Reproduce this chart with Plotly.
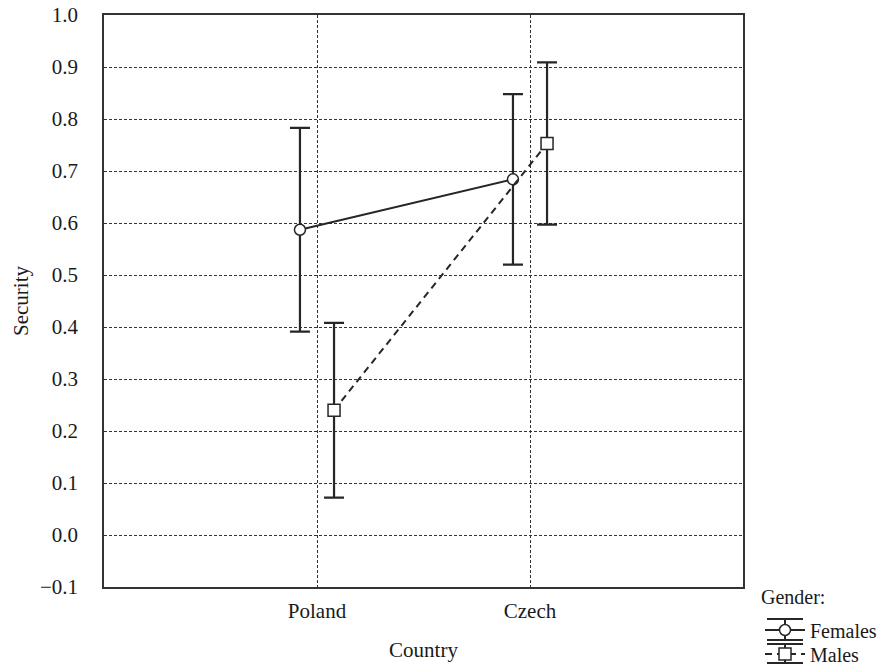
import plotly.graph_objects as go

countries = ["Poland", "Czech"]
females_mean = [0.587, 0.684]
females_err = [0.196, 0.164]
males_mean = [0.240, 0.753]
males_err = [0.168, 0.156]
y_ticks = [-0.1, 0.0, 0.1, 0.2, 0.3, 0.4, 0.5, 0.6, 0.7, 0.8, 0.9, 1.0]
y_ticktext = ["\u22120.1", "0.0", "0.1", "0.2", "0.3", "0.4", "0.5", "0.6", "0.7", "0.8", "0.9", "1.0"]

idx = list(range(len(countries)))
off = 0.08
col = "#262626"
font = "Liberation Serif, Times New Roman, serif"
fs = 21
W, H = 886, 669
ML, MR, MT, MB = 104, 143, 15, 82
PW, PH = W - ML - MR, H - MT - MB


def cy(pix):
    return 1 - pix / H


def cx(pix):
    return pix / W


def pxp(pix):
    return (pix - ML) / PW


def pyp(pix):
    return (H - MB - pix) / PH


fig = go.Figure()
fig.add_trace(go.Scatter(
    x=[i - off for i in idx], y=females_mean, name="Females",
    mode="lines+markers", legend="legend",
    line=dict(color=col, width=2),
    marker=dict(symbol="circle", size=11, color="white", line=dict(color=col, width=1.5)),
    error_y=dict(type="data", array=females_err, color=col, thickness=2.2, width=10),
))
fig.add_trace(go.Scatter(
    x=[i + off for i in idx], y=males_mean, name="Males",
    mode="lines+markers", legend="legend2",
    line=dict(color=col, width=2, dash="7px,5px"),
    marker=dict(symbol="square", size=12, color="white", line=dict(color=col, width=1.5)),
    error_y=dict(type="data", array=males_err, color=col, thickness=2.2, width=10),
))

leg_common = dict(
    xref="container", yref="container", xanchor="left", yanchor="middle",
    font=dict(size=fs - 1), tracegroupgap=0, itemwidth=40,
    bgcolor="rgba(0,0,0,0)", borderwidth=0,
)

# legend glyph decoration: error-bar caps and stems
gx = 785
shapes = []
for ytop, ybot in [(619, 640), (644, 663)]:
    for yy in (ytop, ybot):
        shapes.append(dict(type="line", xref="paper", yref="paper",
                           x0=pxp(gx - 18), x1=pxp(gx + 18), y0=pyp(yy), y1=pyp(yy),
                           line=dict(color=col, width=2), layer="below"))
    shapes.append(dict(type="line", xref="paper", yref="paper",
                       x0=pxp(gx), x1=pxp(gx), y0=pyp(ytop), y1=pyp(ybot),
                       line=dict(color=col, width=2), layer="below"))

fig.update_layout(
    width=W, height=H,
    margin=dict(l=ML, r=MR, t=MT, b=MB, autoexpand=False),
    paper_bgcolor="white", plot_bgcolor="white",
    font=dict(family=font, size=fs, color="#1a1a1a"),
    legend=dict(x=cx(760), y=cy(630), **leg_common),
    legend2=dict(x=cx(760), y=cy(654), **leg_common),
    showlegend=True,
    shapes=shapes,
    annotations=[dict(
        text="Gender:", xref="paper", yref="paper",
        x=pxp(759), y=pyp(597),
        xanchor="left", yanchor="middle", showarrow=False,
        font=dict(size=fs - 1, family=font, color="#1a1a1a"),
    )],
)
fig.update_xaxes(
    range=[-1, 2], tickvals=idx, ticktext=countries, automargin=False,
    showgrid=True, gridcolor="#333333", griddash="3px,2px", gridwidth=1,
    showline=True, linecolor="#333333", linewidth=1.5, mirror=True,
    zeroline=False, ticks="", ticklabelstandoff=4,
    tickfont=dict(size=fs),
    title=dict(text="Country", standoff=20, font=dict(size=fs)),
)
fig.update_yaxes(
    range=[-0.1, 1.0], tickvals=y_ticks, ticktext=y_ticktext, automargin=False,
    showgrid=True, gridcolor="#333333", griddash="3px,2px", gridwidth=1,
    showline=True, linecolor="#333333", linewidth=1.5, mirror=True,
    zeroline=False, ticks="", ticklabelstandoff=20,
    tickfont=dict(size=fs),
    title=dict(text="Security", standoff=6, font=dict(size=fs)),
)

fig.write_html(
    "out.html",
    config={"displayModeBar": False},
    post_script="document.body.style.margin='0';document.body.style.overflow='hidden';",
)
